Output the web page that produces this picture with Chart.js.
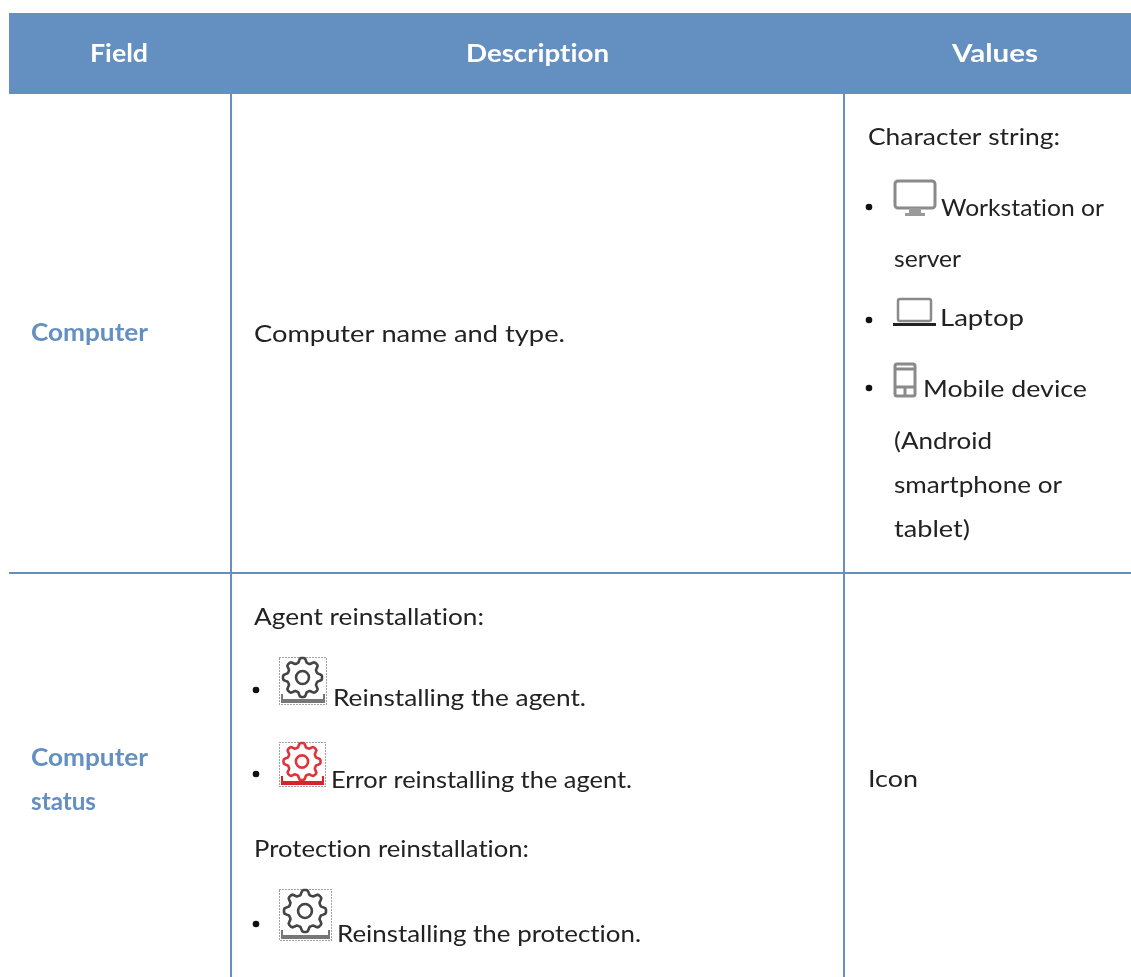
<!DOCTYPE html>
<html lang="en">
<head>
  <meta charset="UTF-8" />
  <title>Computer fields</title>
  <script src="https://cdn.jsdelivr.net/npm/chart.js"></script>
  <style>
    body { margin: 0; background: #fff; }
    #tableChart { display: block; }
  </style>
</head>
<body>
  <canvas id="tableChart" width="1131" height="977"></canvas>

  <script>
    // table content
    const headerLabels = ['Field', 'Description', 'Values'];
    const fieldLabels = ['Computer', 'Computer', 'status'];
    const bodyLabels = [
      'Computer name and type.',
      'Character string:', 'Workstation or', 'server', 'Laptop', 'Mobile device',
      '(Android', 'smartphone or', 'tablet)',
      'Agent reinstallation:', 'Reinstalling the agent.', 'Error reinstalling the agent.',
      'Protection reinstallation:', 'Reinstalling the protection.', 'Icon'
    ];

    // layout, in page pixels: [left, baseline, right]
    const headerPos = [[90, 62, 148], [466, 62, 609], [952, 62, 1038]];
    const fieldPos = [[31, 341, 148], [31, 766, 148], [31, 810, 96]];
    const bodyPos = [
      [254, 342, 565],
      [868, 145, 1060], [941, 216, 1104], [894, 267, 961], [940, 326, 1024], [923, 397, 1087],
      [894, 449, 992], [894, 493, 1062], [894, 537, 970],
      [254, 625, 484], [333, 706, 586], [331, 788, 632],
      [254, 857, 529], [337, 942, 641], [868, 787, 918]
    ];
    const bulletPos = [[869, 207], [869, 320], [869, 388], [256, 690], [256, 774], [256, 924]];
    const columnEdges = [231, 844];
    const rowEdge = 573;
    const tableLeft = 9, tableRight = 1131, headTop = 13, headBottom = 94, pageBottom = 977;

    const BLUE = '#6390c0';
    const TEXT = '#222';
    const FONT = 'Lato, sans-serif';

    // stretch the text sideways so it ends where it ends in the picture
    function fitText(ctx, x, str, pos, font, color) {
      ctx.font = font;
      ctx.fillStyle = color;
      ctx.textRendering = 'optimizeSpeed'; // no "ti" ligature
      const w = ctx.measureText(str).width;
      const left = x.getPixelForValue(pos[0]);
      ctx.save();
      ctx.translate(left, pos[1]);
      ctx.scale((pos[2] - pos[0]) / w, 1);
      ctx.fillText(str, 0, 0);
      ctx.restore();
    }

    function gear(ctx, cx, cy, r, color) {
      ctx.beginPath();
      for (let i = 0; i <= 96; i++) {
        const a = i / 96 * Math.PI * 2;
        const rr = r * (0.89 + 0.11 * Math.max(-1, Math.min(1, 1.6 * Math.cos(a * 8))));
        const px = cx + rr * Math.cos(a), py = cy + rr * Math.sin(a);
        if (i === 0) ctx.moveTo(px, py); else ctx.lineTo(px, py);
      }
      ctx.closePath();
      ctx.strokeStyle = color;
      ctx.lineWidth = 2.6;
      ctx.stroke();
      ctx.beginPath();
      ctx.arc(cx, cy, r * 0.33, 0, Math.PI * 2);
      ctx.stroke();
    }

    function gearIcon(ctx, box, r, color, trayColor) {
      const [l, t, rgt, b] = box;
      ctx.save();
      ctx.strokeStyle = '#444';
      ctx.lineWidth = 1;
      ctx.setLineDash([1, 2]);
      ctx.strokeRect(l + 0.5, t + 0.5, rgt - l - 1, b - t - 1);
      ctx.restore();
      ctx.save();
      ctx.filter = 'blur(0.6px)';
      gear(ctx, (l + rgt) / 2 - 0.5, t + r + 1, r, color);
      ctx.fillStyle = trayColor;
      ctx.fillRect(l + 2, b - 6, rgt - l - 4, 4);
      ctx.fillRect(l + 2, b - 11, 2, 8);
      ctx.fillRect(rgt - 4, b - 11, 2, 8);
      ctx.restore();
    }

    function deviceIcons(ctx) {
      ctx.save();
      ctx.filter = 'blur(0.7px)';
      ctx.strokeStyle = '#8a8a8a';
      ctx.fillStyle = '#9a9a9a';
      ctx.lineWidth = 3;
      // monitor
      ctx.beginPath();
      ctx.roundRect(895, 181, 40, 27, 3);
      ctx.stroke();
      ctx.fillRect(909, 208, 12, 6);
      ctx.fillRect(905, 213, 20, 3);
      // laptop
      ctx.lineWidth = 2.5;
      ctx.beginPath();
      ctx.roundRect(898, 299, 33, 22, 2);
      ctx.stroke();
      ctx.fillStyle = '#222';
      ctx.fillRect(893, 323, 43, 3);
      // mobile
      ctx.lineWidth = 3;
      ctx.beginPath();
      ctx.roundRect(895, 364, 20, 32, 2);
      ctx.moveTo(895, 369);
      ctx.lineTo(915, 369);
      ctx.moveTo(895, 387);
      ctx.lineTo(915, 387);
      ctx.moveTo(905, 387);
      ctx.lineTo(905, 396);
      ctx.stroke();
      ctx.restore();
    }

    const tablePlugin = {
      id: 'tableText',
      afterDatasetsDraw(chart) {
        const ctx = chart.ctx, x = chart.scales.x, y = chart.scales.y;
        ctx.save();
        ctx.textBaseline = 'alphabetic';
        ctx.textAlign = 'left';
        headerLabels.forEach((s, i) => fitText(ctx, x, s, headerPos[i], 'bold 25px ' + FONT, '#fff'));
        fieldLabels.forEach((s, i) => fitText(ctx, x, s, fieldPos[i], 'bold 24px ' + FONT, BLUE));
        bodyLabels.forEach((s, i) => fitText(ctx, x, s, bodyPos[i], '24px ' + FONT, TEXT));
        ctx.fillStyle = '#111';
        bulletPos.forEach(p => {
          ctx.beginPath();
          ctx.arc(x.getPixelForValue(p[0]), y.getPixelForValue(p[1]), 3.3, 0, Math.PI * 2);
          ctx.fill();
        });
        deviceIcons(ctx);
        gearIcon(ctx, [279, 657, 327, 705], 19.5, '#444', '#777');
        gearIcon(ctx, [279, 742, 326, 787], 18.5, '#e0333a', '#d8232a');
        gearIcon(ctx, [279, 889, 332, 941], 21, '#444', '#777');
        ctx.restore();
      }
    };

    const rule = (a, b) => ({
      data: [a, b], borderColor: BLUE, borderWidth: 2, pointRadius: 0, showLine: true, fill: false
    });

    new Chart(document.getElementById('tableChart'), {
      type: 'scatter',
      data: {
        datasets: [
          {
            data: [{ x: tableLeft, y: headBottom }, { x: tableRight, y: headBottom }],
            showLine: true, borderWidth: 0, pointRadius: 0,
            backgroundColor: BLUE, fill: { value: headTop }
          },
          rule({ x: columnEdges[0], y: headBottom }, { x: columnEdges[0], y: pageBottom }),
          rule({ x: columnEdges[1], y: headBottom }, { x: columnEdges[1], y: pageBottom }),
          rule({ x: tableLeft, y: rowEdge }, { x: tableRight, y: rowEdge })
        ]
      },
      options: {
        responsive: false,
        animation: false,
        events: [],
        layout: { padding: 0 },
        plugins: { legend: { display: false }, tooltip: { enabled: false } },
        scales: {
          x: { type: 'linear', display: false, min: 0, max: 1131 },
          y: { type: 'linear', display: false, min: 0, max: 977, reverse: true }
        }
      },
      plugins: [tablePlugin]
    });
  </script>
</body>
</html>
